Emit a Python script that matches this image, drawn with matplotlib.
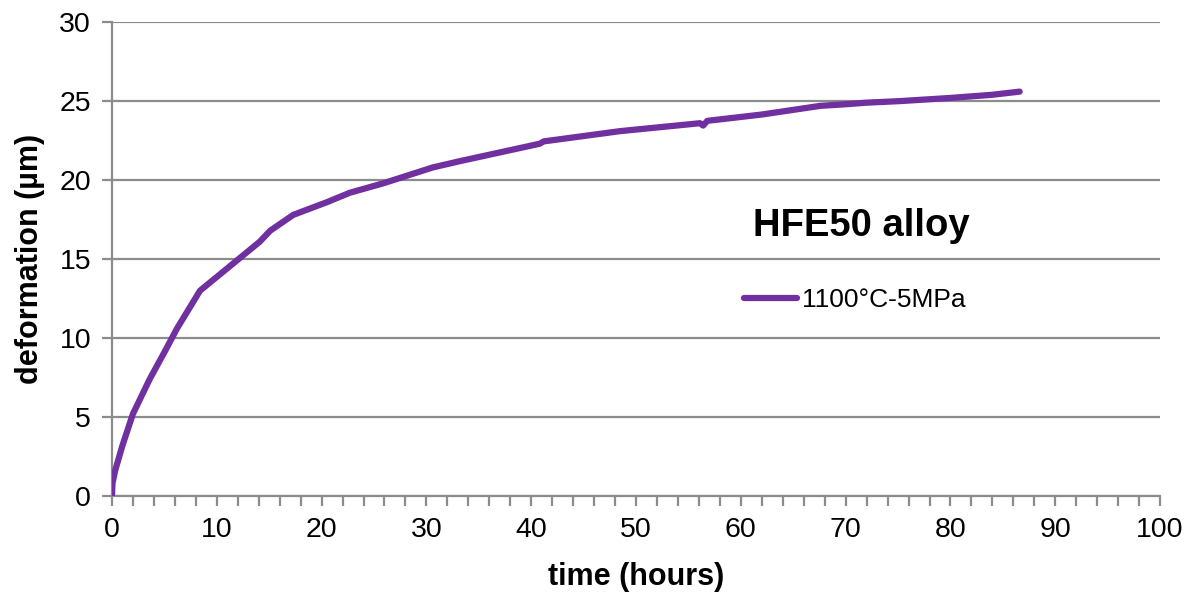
import numpy as np
import matplotlib.pyplot as plt

plt.rcParams['font.family'] = ['Liberation Sans', 'DejaVu Sans']

# creep curve, 1100 °C / 5 MPa
time_h = [0.0, 0.05, 0.3, 1.0, 2.0, 3.6, 5.0, 6.2, 8.4,
          14.1, 15.1, 17.3, 20.5, 22.7, 25.9, 30.6, 33.2,
          40.8, 41.2, 44.0, 48.5, 56.1, 56.4, 56.8, 62.0,
          67.6, 70.0, 72.0, 75.2, 80.0, 84.0, 86.6]
deform_um = [0.0, 0.8, 1.6, 3.2, 5.2, 7.4, 9.1, 10.6, 13.0,
             16.1, 16.8, 17.8, 18.6, 19.2, 19.8, 20.8, 21.2,
             22.3, 22.45, 22.7, 23.1, 23.6, 23.45, 23.75, 24.15,
             24.7, 24.8, 24.9, 25.0, 25.2, 25.4, 25.6]

series_label = '1100°C-5MPa'
title_text = 'HFE50 alloy'

fig = plt.figure(figsize=(11.96, 5.97), dpi=100)
ax = fig.add_axes([0.0936, 0.169, 0.8764, 0.794])

ax.plot(time_h, deform_um, color='#7030A0', lw=4.5, solid_capstyle='round',
        solid_joinstyle='round', label=series_label, zorder=3)

ax.set_xlim(0, 100)
ax.set_ylim(0, 30)
ax.set_xticks(np.arange(0, 101, 10))
ax.set_xticks(np.arange(0, 101, 2), minor=True)
ax.set_yticks(np.arange(0, 31, 5))

grid_c = '#8c8c8c'
ax.yaxis.grid(True, color=grid_c, lw=1.6)
ax.set_axisbelow(True)
for s in ['top', 'right']:
    ax.spines[s].set_visible(False)
for s in ['left', 'bottom']:
    ax.spines[s].set_color(grid_c)
    ax.spines[s].set_linewidth(1.6)

ax.tick_params(axis='both', which='major', labelsize=20.5, color=grid_c,
               width=1.6, length=7, direction='out')
ax.tick_params(axis='x', which='major', pad=8)
ax.tick_params(axis='y', which='major', pad=8)
ax.tick_params(axis='x', which='minor', color=grid_c, width=1.6, length=7,
               direction='out')

ax.set_xlabel('time (hours)', fontsize=22, fontweight='bold', labelpad=14)
ax.set_ylabel('deformation (µm)', fontsize=22, fontweight='bold', labelpad=10)

ax.text(0.72, 0.622, title_text, transform=fig.transFigure, ha='center',
        va='center', fontsize=27.5, fontweight='bold')

ax.legend(loc='center left', bbox_to_anchor=(0.602, 0.497),
          bbox_transform=fig.transFigure, frameon=False, fontsize=19,
          handlelength=2.0, handletextpad=0.2)

fig.savefig('out.png', dpi=100)
